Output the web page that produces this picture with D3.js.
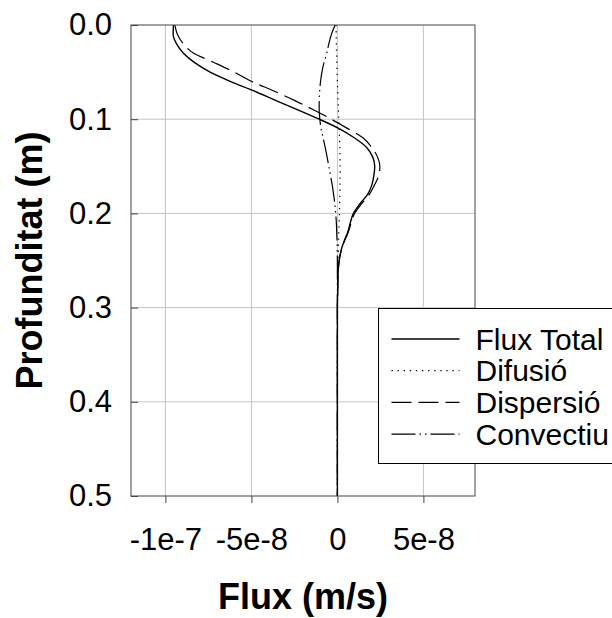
<!DOCTYPE html>
<html>
<head>
<meta charset="utf-8">
<script src="https://cdn.jsdelivr.net/npm/d3@7"></script>
<style>
  html, body { margin: 0; padding: 0; background: #fff; }
  svg { display: block; font-family: "Liberation Sans", Arial, sans-serif; }
</style>
</head>
<body>
<div id="chart"></div>
<script>
// depth (m) and fluxes (units of 1e-8 m/s)
const depth = [0, 0.01, 0.02, 0.03, 0.04, 0.05, 0.06, 0.07, 0.08, 0.09, 0.10, 0.11, 0.12, 0.13, 0.14, 0.15,
  0.16, 0.17, 0.18, 0.19, 0.20, 0.21, 0.22, 0.23, 0.24, 0.25, 0.26, 0.28, 0.30, 0.35, 0.40, 0.45, 0.50];
const fluxTotal = [-9.53, -9.55, -9.35, -8.95, -8.3, -7.4, -6.2, -4.85, -3.6, -2.3, -1.05, 0.1, 1.0, 1.7, 2.05, 2.17,
  2.12, 2.0, 1.75, 1.3, 0.93, 0.75, 0.6, 0.38, 0.2, 0.1, 0.05, 0.02, 0, 0, 0, 0, 0];
const difusio = [-0.08, -0.07, -0.06, -0.05, -0.03, -0.02, 0, 0.02, 0.04, 0.06, 0.08, 0.1, 0.12, 0.14, 0.15, 0.16,
  0.16, 0.15, 0.14, 0.13, 0.12, 0.1, 0.08, 0.07, 0.05, 0.04, 0.03, 0.02, 0.01, 0, 0, 0, 0];
const dispersio = [-9.45, -9.3, -8.95, -8.35, -7.15, -6.0, -4.98, -3.7, -2.5, -1.4, -0.35, 0.6, 1.5, 2.0, 2.33, 2.47,
  2.4, 2.15, 1.85, 1.4, 1.0, 0.8, 0.63, 0.4, 0.22, 0.11, 0.05, 0.02, 0, 0, 0, 0, 0];
const convectiu = [-0.13, -0.35, -0.5, -0.62, -0.78, -0.9, -0.98, -1.03, -1.06, -1.06, -1.02, -0.95, -0.83, -0.71, -0.6, -0.5,
  -0.4, -0.3, -0.22, -0.15, -0.1, -0.06, -0.04, -0.02, -0.01, 0, 0, 0, 0, 0, 0, 0, 0];

const xTicks = [-10, -5, 0, 5];
const xTickLabels = ['-1e-7', '-5e-8', '0', '5e-8'];
const yTicks = [0, 0.1, 0.2, 0.3, 0.4, 0.5];

const series = [
  { name: 'Flux Total', values: fluxTotal, dash: null, width: 1.4 },
  { name: 'Difusió', values: difusio, dash: '1.3,4.8', width: 1.2 },
  { name: 'Dispersió', values: dispersio, dash: '20,7', width: 1.2 },
  { name: 'Convectiu', values: convectiu, dash: '24,4,1.5,4,1.5,4', width: 1.2 }
];

const width = 612, height = 618;
const MARGIN = { top: 25, right: 137, bottom: 122, left: 131 };
const innerW = width - MARGIN.left - MARGIN.right;
const innerH = height - MARGIN.top - MARGIN.bottom;

const svg = d3.select('#chart').append('svg')
  .attr('width', width)
  .attr('height', height);

const g = svg.append('g').attr('transform', `translate(${MARGIN.left},${MARGIN.top})`);

const x = d3.scaleLinear().domain([-12, 8]).range([0, innerW]);
const y = d3.scaleLinear().domain([0, 0.5]).range([0, innerH]);

// grid
g.append('g').selectAll('line').data(xTicks).join('line')
  .attr('x1', (d) => x(d)).attr('x2', (d) => x(d))
  .attr('y1', 0).attr('y2', innerH)
  .attr('stroke', '#c4c4c4').attr('stroke-width', 1);
g.append('g').selectAll('line').data(yTicks.slice(1, -1)).join('line')
  .attr('x1', 0).attr('x2', innerW)
  .attr('y1', (d) => y(d)).attr('y2', (d) => y(d))
  .attr('stroke', '#c4c4c4').attr('stroke-width', 1);

// curves
const line = d3.line()
  .x((d) => x(d[1]))
  .y((d) => y(d[0]))
  .curve(d3.curveMonotoneY);

series.forEach((s) => {
  g.append('path')
    .datum(depth.map((dp, i) => [dp, s.values[i]]))
    .attr('fill', 'none')
    .attr('stroke', '#000')
    .attr('stroke-width', s.width)
    .attr('stroke-dasharray', s.dash)
    .attr('d', line);
});

// frame
g.append('rect')
  .attr('x', 0).attr('y', 0)
  .attr('width', innerW).attr('height', innerH)
  .attr('fill', 'none').attr('stroke', '#444').attr('stroke-width', 1);

// axes
const xAxisG = g.append('g').attr('transform', `translate(0,${innerH})`)
  .call(d3.axisBottom(x).tickValues(xTicks).tickSize(7).tickPadding(25)
    .tickFormat((d, i) => xTickLabels[i]));
const yAxisG = g.append('g')
  .call(d3.axisLeft(y).tickValues(yTicks).tickSizeInner(-7).tickSizeOuter(0).tickPadding(19)
    .tickFormat(d3.format('.1f')));
[xAxisG, yAxisG].forEach((axis) => {
  axis.select('.domain').remove();
  axis.selectAll('line').attr('stroke', '#444');
  axis.selectAll('text')
    .attr('fill', '#000')
    .style('font-size', '31px')
    .style('font-family', '"Liberation Sans", Arial, sans-serif');
});

// axis titles
svg.append('text')
  .attr('x', MARGIN.left + innerW / 2)
  .attr('y', 609)
  .attr('text-anchor', 'middle')
  .style('font-size', '36px')
  .style('font-weight', 'bold')
  .text('Flux (m/s)');

svg.append('text')
  .attr('transform', `translate(42,${MARGIN.top + innerH / 2}) rotate(-90)`)
  .attr('text-anchor', 'middle')
  .style('font-size', '36px')
  .style('font-weight', 'bold')
  .text('Profunditat (m)');

// legend
const legend = svg.append('g').attr('transform', 'translate(378.5,308.5)');
legend.append('rect')
  .attr('width', 260).attr('height', 155)
  .attr('fill', '#fff').attr('stroke', '#000').attr('stroke-width', 1);
series.forEach((s, i) => {
  const row = legend.append('g').attr('transform', `translate(0,${30.5 + i * 31.7})`);
  row.append('line')
    .attr('x1', 13).attr('x2', 81)
    .attr('stroke', '#000')
    .attr('stroke-width', s.width)
    .attr('stroke-dasharray', s.dash);
  row.append('text')
    .attr('x', 97)
    .attr('dy', '0.35em')
    .style('font-size', '30px')
    .text(s.name);
});
</script>
</body>
</html>
